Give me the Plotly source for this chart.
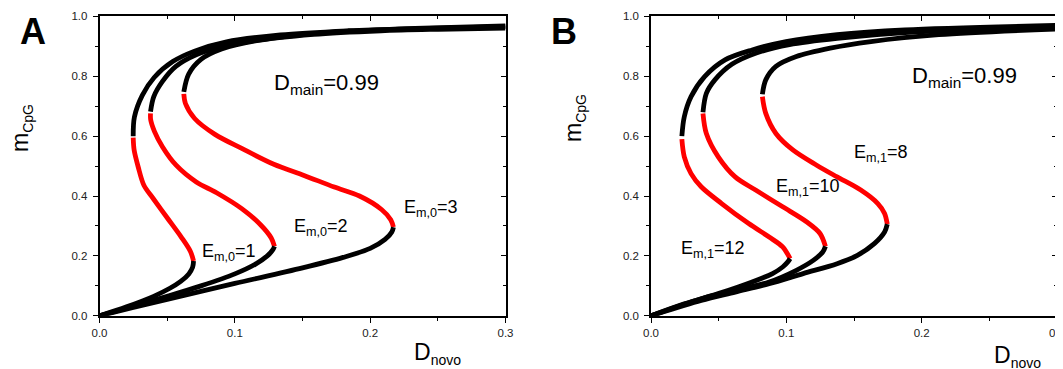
import plotly.graph_objects as go

# ---------------- Panel A (E_m,0 = 1, 2, 3) ----------------
A1_low_x = [0.0, 0.02, 0.04, 0.052, 0.06, 0.066, 0.0688, 0.0695]
A1_low_y = [0.0, 0.03, 0.065, 0.092, 0.115, 0.14, 0.162, 0.183]
A1_mid_x = [0.0695, 0.0672, 0.0604, 0.0504, 0.0398, 0.0328, 0.0286, 0.0256, 0.0249]
A1_mid_y = [0.183, 0.215, 0.263, 0.325, 0.391, 0.436, 0.497, 0.553, 0.595]
A1_up_x = [0.0249, 0.0258, 0.0317, 0.0404, 0.0541, 0.0702, 0.0939, 0.1337, 0.184, 0.233, 0.3]
A1_up_y = [0.600, 0.664, 0.737, 0.796, 0.849, 0.884, 0.915, 0.938, 0.952, 0.960, 0.968]

A2_low_x = [0.0, 0.025, 0.05, 0.075, 0.1, 0.115, 0.124, 0.128, 0.1293]
A2_low_y = [0.0, 0.032, 0.065, 0.1, 0.14, 0.172, 0.2, 0.22, 0.232]
A2_mid_x = [0.1293, 0.1269, 0.1188, 0.1051, 0.0865, 0.0715, 0.0566, 0.0466, 0.0405, 0.0378, 0.0377]
A2_mid_y = [0.232, 0.26, 0.305, 0.358, 0.411, 0.447, 0.503, 0.564, 0.617, 0.655, 0.676]
A2_up_x = [0.0377, 0.0401, 0.0464, 0.0564, 0.0714, 0.0915, 0.1266, 0.177, 0.227, 0.3]
A2_up_y = [0.682, 0.732, 0.782, 0.833, 0.872, 0.900, 0.927, 0.949, 0.958, 0.966]

A3_low_x = [0.0, 0.025, 0.05, 0.1, 0.15, 0.18, 0.2, 0.211, 0.216, 0.2172]
A3_low_y = [0.0, 0.028, 0.055, 0.108, 0.16, 0.195, 0.225, 0.255, 0.28, 0.296]
A3_mid_x = [0.2172, 0.2152, 0.2084, 0.1921, 0.1735, 0.1511, 0.1288, 0.1051, 0.0853, 0.0703, 0.0635, 0.0623]
A3_mid_y = [0.296, 0.321, 0.355, 0.400, 0.430, 0.469, 0.506, 0.559, 0.606, 0.659, 0.709, 0.741]
A3_up_x = [0.0623, 0.0659, 0.0752, 0.0902, 0.115, 0.158, 0.208, 0.25, 0.3]
A3_up_y = [0.748, 0.807, 0.857, 0.891, 0.918, 0.940, 0.952, 0.957, 0.961]

# ---------------- Panel B (E_m,1 = 12, 10, 8) ----------------
B12_low_x = [0.0, 0.0246, 0.0497, 0.0747, 0.0898, 0.0973, 0.1011, 0.1028]
B12_low_y = [0.0, 0.04, 0.074, 0.113, 0.141, 0.163, 0.18, 0.191]
B12_mid_x = [0.1028, 0.0973, 0.0873, 0.0722, 0.0522, 0.0371, 0.0296, 0.0246, 0.0228]
B12_mid_y = [0.191, 0.23, 0.263, 0.308, 0.375, 0.431, 0.475, 0.531, 0.59]
B12_up_x = [0.0228, 0.0246, 0.0296, 0.0396, 0.0547, 0.0747, 0.0998, 0.1375, 0.1876, 0.3]
B12_up_y = [0.6, 0.665, 0.732, 0.799, 0.855, 0.888, 0.916, 0.939, 0.955, 0.97]

B10_low_x = [0.0, 0.0371, 0.0622, 0.0873, 0.1074, 0.1199, 0.1269, 0.1289]
B10_low_y = [0.0, 0.057, 0.085, 0.113, 0.152, 0.185, 0.213, 0.232]
B10_mid_x = [0.1289, 0.1249, 0.1149, 0.0973, 0.0773, 0.0622, 0.0497, 0.0409, 0.0384]
B10_mid_y = [0.232, 0.275, 0.314, 0.364, 0.42, 0.464, 0.531, 0.609, 0.676]
B10_up_x = [0.0384, 0.0409, 0.0472, 0.0597, 0.0773, 0.1023, 0.1375, 0.1876, 0.3]
B10_up_y = [0.68, 0.743, 0.788, 0.84, 0.877, 0.906, 0.927, 0.946, 0.964]

B8_low_x = [0.0, 0.0371, 0.0622, 0.0873, 0.1124, 0.1375, 0.1525, 0.165, 0.1726, 0.1746]
B8_low_y = [0.0, 0.051, 0.079, 0.107, 0.141, 0.174, 0.202, 0.241, 0.28, 0.306]
B8_mid_x = [0.1746, 0.1726, 0.1676, 0.155, 0.1375, 0.1224, 0.1048, 0.0923, 0.0848, 0.0823]
B8_mid_y = [0.306, 0.342, 0.375, 0.42, 0.464, 0.503, 0.554, 0.609, 0.676, 0.732]
B8_up_x = [0.0823, 0.0848, 0.0923, 0.1074, 0.1324, 0.1625, 0.2127, 0.3]
B8_up_y = [0.74, 0.788, 0.833, 0.866, 0.894, 0.916, 0.939, 0.958]

x_ticks = [0.0, 0.1, 0.2, 0.3]
y_ticks = [0.0, 0.2, 0.4, 0.6, 0.8, 1.0]

panel_A = [(A1_low_x, A1_low_y, A1_mid_x, A1_mid_y, A1_up_x, A1_up_y),
           (A2_low_x, A2_low_y, A2_mid_x, A2_mid_y, A2_up_x, A2_up_y),
           (A3_low_x, A3_low_y, A3_mid_x, A3_mid_y, A3_up_x, A3_up_y)]
panel_B = [(B12_low_x, B12_low_y, B12_mid_x, B12_mid_y, B12_up_x, B12_up_y),
           (B10_low_x, B10_low_y, B10_mid_x, B10_mid_y, B10_up_x, B10_up_y),
           (B8_low_x, B8_low_y, B8_mid_x, B8_mid_y, B8_up_x, B8_up_y)]

BLACK = "#000000"
RED = "#ff0000"
LW = 4.8
FONT = "Liberation Sans, Arial, sans-serif"

fig = go.Figure()

def add_curves(curves, xa, ya):
    for lx, ly, mx, my, ux, uy in curves:
        for xs, ys, col in ((mx, my, RED), (lx, ly, BLACK), (ux, uy, BLACK)):
            fig.add_trace(go.Scatter(x=xs, y=ys, mode="lines", xaxis=xa, yaxis=ya,
                                     line=dict(color=col, width=LW, shape="spline", smoothing=0.9),
                                     showlegend=False, hoverinfo="skip"))

add_curves(panel_A, "x", "y")
add_curves(panel_B, "x2", "y2")

# dummy traces so the mirror (top/right) axes exist
for xa, ya in (("x3", "y3"), ("x4", "y4")):
    fig.add_trace(go.Scatter(x=[None], y=[None], xaxis=xa, yaxis=ya, showlegend=False, hoverinfo="skip"))

W, H = 1063, 369
OFF = 8  # page body margin of the browser

def px(v):
    return (v - OFF) / W

def py(v):
    return 1 - (v - OFF) / H

xdomA = [px(99.5), px(505.5)]
xdomB = [px(651.0), px(1057.0)]
ydom = [py(315.8), py(16.4)]

tickfont = dict(family=FONT, size=11.5, color="#222222")

def xax(dom, anchor):
    return dict(domain=dom, anchor=anchor, range=[0, 0.3], tickvals=x_ticks, tickformat=".1f",
                ticks="outside", ticklen=5, tickwidth=1.3, tickcolor="black",
                minor=dict(dtick=0.05, ticks="outside", ticklen=3, tickwidth=1.3, tickcolor="black"),
                showline=True, linecolor="black", linewidth=1.6, showgrid=False, zeroline=False,
                tickfont=tickfont, fixedrange=True, automargin=False, ticklabelstandoff=1)

def yax(anchor):
    return dict(domain=ydom, anchor=anchor, range=[0, 1.0], tickvals=y_ticks, tickformat=".1f",
                ticks="outside", ticklen=5, tickwidth=1.3, tickcolor="black",
                minor=dict(dtick=0.1, ticks="outside", ticklen=3, tickwidth=1.3, tickcolor="black"),
                showline=True, linecolor="black", linewidth=1.6, showgrid=False, zeroline=False,
                tickfont=tickfont, fixedrange=True, automargin=False, ticklabelstandoff=3)

def xmirror(base, anchor):
    return dict(overlaying=base, anchor=anchor, side="top", range=[0, 0.3], tickvals=x_ticks,
                ticks="inside", ticklen=5, tickwidth=1.3, tickcolor="black",
                minor=dict(dtick=0.05, ticks="inside", ticklen=3, tickwidth=1.3, tickcolor="black"),
                showline=True, linecolor="black", linewidth=1.6, showgrid=False, zeroline=False,
                showticklabels=False, fixedrange=True)

def ymirror(base, anchor):
    return dict(overlaying=base, anchor=anchor, side="right", range=[0, 1.0], tickvals=y_ticks,
                ticks="inside", ticklen=5, tickwidth=1.3, tickcolor="black",
                minor=dict(dtick=0.1, ticks="inside", ticklen=3, tickwidth=1.3, tickcolor="black"),
                showline=True, linecolor="black", linewidth=1.6, showgrid=False, zeroline=False,
                showticklabels=False, fixedrange=True)

annotations = []

def txt(text, x, y, xref, yref, size, **kw):
    d = dict(text=text, x=x, y=y, xref=xref, yref=yref, showarrow=False,
             font=dict(family=FONT, size=size, color="black"))
    d.update(kw)
    annotations.append(d)

# panel letters
txt("<b>A</b>", px(17.7), py(9), "paper", "paper", 36, xanchor="left", yanchor="top")
txt("<b>B</b>", px(548.6), py(9), "paper", "paper", 36, xanchor="left", yanchor="top")

# axis titles
SUB14 = '<sub><span style="font-size:14px">{}</span></sub>'
txt("D" + SUB14.format("novo"), px(412), py(337), "paper", "paper", 23, xanchor="left", yanchor="top")
txt("D" + SUB14.format("novo"), px(992), py(340), "paper", "paper", 23, xanchor="left", yanchor="top")
txt("m" + SUB14.format("CpG"), px(21), py(128), "paper", "paper", 23, textangle=-90,
    xanchor="center", yanchor="middle")
txt("m" + SUB14.format("CpG"), px(574), py(118), "paper", "paper", 23, textangle=-90,
    xanchor="center", yanchor="middle")

# in-plot labels panel A
txt("D<sub>main</sub>=0.99", 0.1275, 0.775, "x", "y", 22, xanchor="left", yanchor="middle")
txt("E<sub>m,0</sub>=1", 0.0745, 0.213, "x", "y", 18, xanchor="left", yanchor="middle")
txt("E<sub>m,0</sub>=2", 0.142, 0.2935, "x", "y", 18, xanchor="left", yanchor="middle")
txt("E<sub>m,0</sub>=3", 0.2233, 0.36, "x", "y", 18, xanchor="left", yanchor="middle")
# in-plot labels panel B
txt("D<sub>main</sub>=0.99", 0.1916, 0.798, "x2", "y2", 22, xanchor="left", yanchor="middle")
txt("E<sub>m,1</sub>=8", 0.1483, 0.541, "x2", "y2", 18, xanchor="left", yanchor="middle")
txt("E<sub>m,1</sub>=10", 0.0906, 0.427, "x2", "y2", 18, xanchor="left", yanchor="middle")
txt("E<sub>m,1</sub>=12", 0.0204, 0.223, "x2", "y2", 18, xanchor="left", yanchor="middle")

fig.update_layout(
    width=W, height=H, autosize=False,
    margin=dict(l=0, r=0, t=0, b=0, pad=0),
    paper_bgcolor="white", plot_bgcolor="white",
    showlegend=False,
    xaxis=xax(xdomA, "y"), yaxis=yax("x"),
    xaxis2=xax(xdomB, "y2"), yaxis2=yax("x2"),
    xaxis3=xmirror("x", "y3"), yaxis3=ymirror("y", "x3"),
    xaxis4=xmirror("x2", "y4"), yaxis4=ymirror("y2", "x4"),
    annotations=annotations,
    font=dict(family=FONT),
)

fig.write_html("out.html")
